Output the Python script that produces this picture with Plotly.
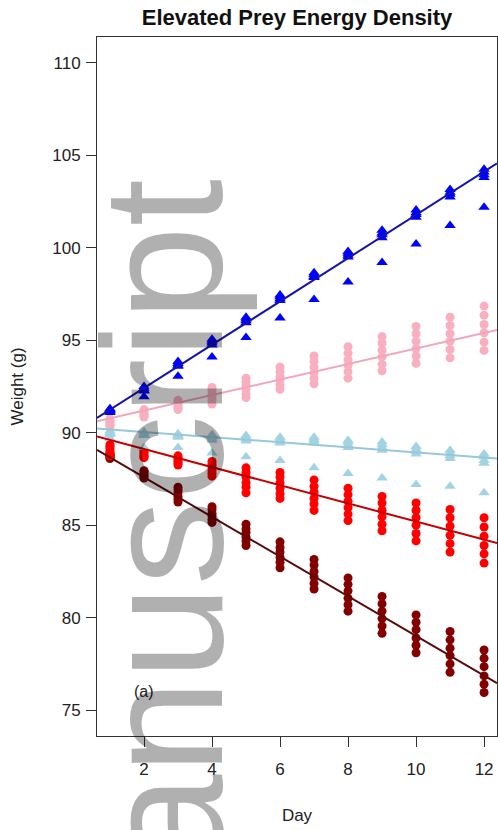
import plotly.graph_objects as go

days = [1, 2, 3, 4, 5, 6, 7, 8, 9, 10, 11, 12]

# Fish weights (g) per day for each treatment group
blue_weights = [
    [91.3, 91.25, 91.2, 91.15, 91.1],
    [92.5, 92.4, 92.3, 92.25, 91.95],
    [93.85, 93.75, 93.65, 93.6, 93.05],
    [95.05, 94.95, 94.85, 94.75, 94.1],
    [96.25, 96.15, 96.05, 95.95, 95.15],
    [97.45, 97.35, 97.25, 97.15, 96.2],
    [98.65, 98.55, 98.45, 98.4, 97.2],
    [99.8, 99.7, 99.6, 99.5, 98.15],
    [100.95, 100.8, 100.7, 100.55, 99.2],
    [102.05, 101.9, 101.8, 101.65, 100.2],
    [103.15, 103.0, 102.9, 102.75, 101.2],
    [104.25, 104.1, 103.95, 103.8, 102.2],
]
pink_weights = [
    [90.75, 90.65, 90.55, 90.5, 90.4, 90.35],
    [91.25, 91.15, 91.1, 91.0, 90.9, 90.85],
    [91.75, 91.65, 91.55, 91.45, 91.35, 91.25],
    [92.45, 92.3, 92.1, 91.95, 91.75, 91.55],
    [92.95, 92.75, 92.55, 92.35, 92.1, 91.9],
    [93.55, 93.3, 93.05, 92.85, 92.6, 92.35],
    [94.15, 93.85, 93.55, 93.25, 92.95, 92.65],
    [94.65, 94.3, 93.95, 93.65, 93.3, 92.95],
    [95.2, 94.85, 94.45, 94.1, 93.7, 93.35],
    [95.75, 95.35, 94.95, 94.55, 94.15, 93.75],
    [96.25, 95.8, 95.35, 94.95, 94.5, 94.05],
    [96.85, 96.35, 95.85, 95.4, 94.9, 94.45],
]
lightblue_weights = [
    [90.1, 90.0, 89.95, 89.9, 89.7],
    [90.05, 89.95, 89.9, 89.85, 89.2],
    [89.95, 89.85, 89.8, 89.75, 89.2],
    [89.9, 89.8, 89.7, 89.6, 88.9],
    [89.85, 89.75, 89.65, 89.55, 88.7],
    [89.75, 89.65, 89.55, 89.45, 88.5],
    [89.75, 89.65, 89.55, 89.45, 88.1],
    [89.6, 89.5, 89.35, 89.2, 87.8],
    [89.5, 89.35, 89.2, 89.05, 87.55],
    [89.25, 89.1, 89.0, 88.85, 87.2],
    [89.05, 88.9, 88.75, 88.6, 87.1],
    [88.85, 88.7, 88.5, 88.35, 86.75],
]
red_weights = [
    [89.35, 89.25, 89.15, 89.0, 88.9, 88.75],
    [89.05, 88.95, 88.85, 88.75, 88.7, 88.65],
    [88.75, 88.65, 88.55, 88.45, 88.35, 88.25],
    [88.45, 88.3, 88.15, 87.95, 87.8, 87.65],
    [88.1, 87.85, 87.6, 87.3, 87.05, 86.75],
    [87.85, 87.6, 87.3, 87.0, 86.7, 86.45],
    [87.45, 87.1, 86.8, 86.45, 86.15, 85.8],
    [87.0, 86.65, 86.3, 85.95, 85.6, 85.25],
    [86.55, 86.2, 85.8, 85.45, 85.05, 84.7],
    [86.2, 85.8, 85.4, 85.0, 84.55, 84.15],
    [85.85, 85.4, 84.95, 84.45, 84.0, 83.55],
    [85.4, 84.9, 84.4, 83.9, 83.45, 82.95],
]
darkred_weights = [
    [88.85, 88.8, 88.75, 88.7, 88.65, 88.6],
    [87.95, 87.9, 87.8, 87.7, 87.6, 87.55],
    [87.05, 86.9, 86.75, 86.55, 86.4, 86.25],
    [86.0, 85.85, 85.65, 85.5, 85.3, 85.15],
    [85.05, 84.8, 84.6, 84.35, 84.15, 83.9],
    [84.1, 83.8, 83.55, 83.25, 83.0, 82.7],
    [83.15, 82.85, 82.5, 82.2, 81.85, 81.55],
    [82.15, 81.8, 81.45, 81.05, 80.7, 80.35],
    [81.15, 80.75, 80.35, 79.95, 79.55, 79.15],
    [80.15, 79.75, 79.35, 78.9, 78.5, 78.1],
    [79.25, 78.8, 78.35, 77.95, 77.5, 77.05],
    [78.25, 77.8, 77.35, 76.85, 76.4, 75.95],
]

# Fitted regression lines: weight = intercept + slope * day
fit_intercepts = {"darkred": 89.74, "red": 90.1, "lightblue": 90.31, "pink": 90.36, "blue": 90.08}
fit_slopes = {"darkred": -1.073, "red": -0.49, "lightblue": -0.138, "pink": 0.42, "blue": 1.17}

x_ticks = [2, 4, 6, 8, 10, 12]
y_ticks = [75, 80, 85, 90, 95, 100, 105, 110]
x_range = [0.618, 12.38]
y_range = [73.6, 111.4]

FONT = "Liberation Sans, Arial, Helvetica, sans-serif"

groups = [
    ("darkred", darkred_weights, "circle", 9, "#840000", "#5a0808"),
    ("red", red_weights, "circle", 9, "#ff0000", "#c40000"),
    ("lightblue", lightblue_weights, "triangle-up", 10, "#a3d3e2", "#96c8d8"),
    ("pink", pink_weights, "circle", 9, "#f8b0c1", "#f2a7b8"),
    ("blue", blue_weights, "triangle-up", 10, "#0000ff", "#1414a8"),
]

fig = go.Figure()

for name, weights, symbol, size, mcol, _ in groups:
    xs, ys = [], []
    for d, vals in zip(days, weights):
        for v in vals:
            xs.append(d)
            ys.append(v)
    fig.add_trace(go.Scatter(
        x=xs, y=ys, mode="markers", name=name,
        marker=dict(symbol=symbol, size=size, color=mcol, line=dict(width=0)),
        showlegend=False, hoverinfo="skip",
    ))

for name, _, _, _, _, lcol in groups:
    a, b = fit_intercepts[name], fit_slopes[name]
    fig.add_trace(go.Scatter(
        x=x_range, y=[a + b * x_range[0], a + b * x_range[1]],
        mode="lines", line=dict(color=lcol, width=2),
        showlegend=False, hoverinfo="skip", cliponaxis=True,
    ))

axis_common = dict(
    showgrid=False, zeroline=False, showline=True, mirror=True,
    linecolor="#333333", linewidth=1,
    ticks="outside", ticklen=10, tickwidth=1, tickcolor="#333333",
    tickfont=dict(family=FONT, size=17, color="#222222"),
)

fig.update_layout(
    width=498, height=830,
    margin=dict(l=97, r=1, t=37, b=94),
    paper_bgcolor="white", plot_bgcolor="white",
    title=dict(text="<b>Elevated Prey Energy Density</b>", x=0.5, xref="paper",
               y=1 - 17 / 830, yanchor="middle",
               font=dict(family=FONT, size=22, color="#111111")),
    xaxis=dict(range=x_range, tickvals=x_ticks, ticktext=[str(t) for t in x_ticks],
               ticklabelstandoff=8,
               title=dict(text="Day", font=dict(family=FONT, size=17, color="#222222"), standoff=30),
               **axis_common),
    yaxis=dict(range=y_range, tickvals=y_ticks, ticktext=[str(t) for t in y_ticks],
               ticklabelstandoff=2,
               title=dict(text="Weight (g)", font=dict(family=FONT, size=17, color="#222222"), standoff=24),
               **axis_common),
    annotations=[
        dict(x=2, y=76, xref="x", yref="y", text="(a)", showarrow=False,
             font=dict(family=FONT, size=16, color="#222222")),
        dict(x=(162 - 97) / 400, y=(736 - 178) / 699, xref="paper", yref="paper",
             text="Manuscript", textangle=-90, showarrow=False,
             xanchor="center", yanchor="top",
             font=dict(family=FONT, size=170, color="rgba(0,0,0,0.31)")),
    ],
)

fig.write_html("out.html")
